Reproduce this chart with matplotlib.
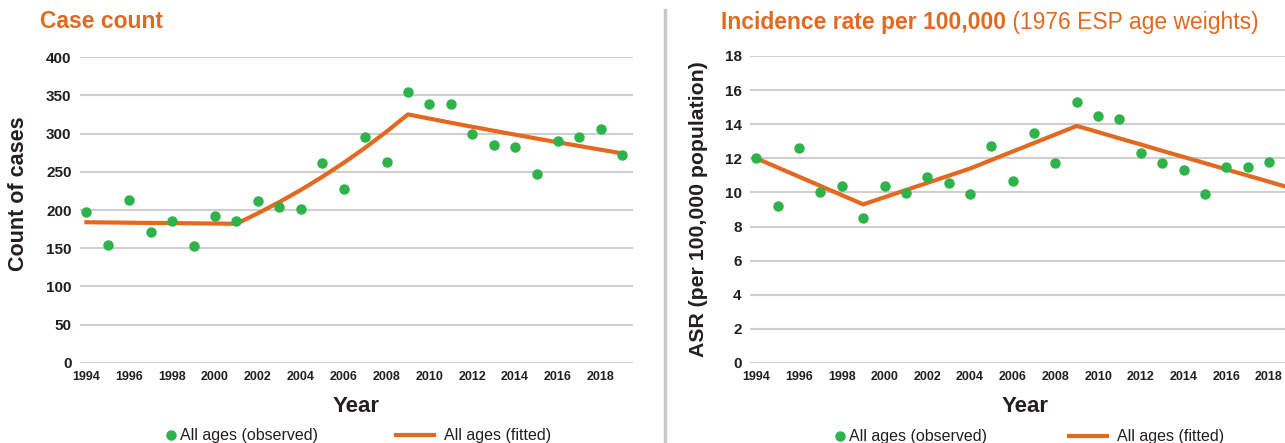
import matplotlib
matplotlib.use("Agg")
import matplotlib.pyplot as plt
from matplotlib import font_manager
from matplotlib.lines import Line2D

# --- data ---
years = list(range(1994, 2020))
case_obs = [197, 154, 213, 171, 186, 153, 192, 185, 212, 204, 201, 261, 227,
            296, 263, 354, 339, 338, 300, 285, 282, 247, 290, 296, 306, 272]
case_fit = [184, 183.7, 183.4, 183.1, 182.9, 182.6, 182.3, 182, 195.7, 210.4,
            226.2, 243.3, 261.6, 281.3, 302.4, 325, 319.5, 314.1, 308.8, 303.6,
            298.5, 293.4, 288.5, 283.6, 278.8, 274]

asr_years = list(range(1994, 2019))
asr_obs = [12.0, 9.2, 12.6, 10.0, 10.35, 8.5, 10.35, 9.95, 10.9, 10.55, 9.9,
           12.7, 10.7, 13.5, 11.7, 15.3, 14.5, 14.33, 12.33, 11.72, 11.33,
           9.9, 11.5, 11.5, 11.8]
asr_fit = [12.0, 11.46, 10.92, 10.38, 9.84, 9.3, 9.72, 10.14, 10.56, 10.98,
           11.4, 11.9, 12.4, 12.9, 13.4, 13.9, 13.54, 13.17, 12.81, 12.44,
           12.08, 11.72, 11.35, 10.99, 10.63, 10.26]

xtick_years = list(range(1994, 2019, 2))
case_ticks = list(range(0, 401, 50))
asr_ticks = list(range(0, 19, 2))

ORANGE = "#E2691F"
GREEN = "#2DB34A"
GRID = "#cfcfcf"
TEXT = "#231f20"

names = {f.name for f in font_manager.fontManager.ttflist}
NARROW = "Liberation Sans Narrow" if "Liberation Sans Narrow" in names else "Liberation Sans"
plt.rcParams["font.family"] = ["Liberation Sans", "DejaVu Sans"]

fig = plt.figure(figsize=(12.85, 4.43), dpi=100)
ax1 = fig.add_axes([80 / 1285, 0.1806, 553 / 1285, 0.6907])
ax2 = fig.add_axes([750 / 1285, 0.1806, 535 / 1285, 0.6930])


def style_axes(ax, ticks, ylim, xlim):
    ax.set_xlim(*xlim)
    ax.set_ylim(*ylim)
    ax.set_yticks(ticks)
    ax.set_xticks(xtick_years)
    ax.grid(axis="y", color=GRID, linewidth=1.5)
    ax.set_axisbelow(True)
    for s in ax.spines.values():
        s.set_visible(False)
    ax.tick_params(length=0, colors=TEXT, pad=6)
    for lab in ax.get_yticklabels():
        lab.set_fontfamily(NARROW)
        lab.set_fontweight("bold")
        lab.set_fontsize(11)
    for lab in ax.get_xticklabels():
        lab.set_fontfamily(NARROW)
        lab.set_fontweight("bold")
        lab.set_fontsize(9)
    ax.set_xlabel("Year", fontsize=16, fontweight="bold", color=TEXT, va="center")


def add_legend(ax, x_obs, x_fit, y):
    obs = Line2D([], [], marker="o", linestyle="none", color=GREEN, markersize=6.5)
    fit = Line2D([], [], color=ORANGE, linewidth=3)
    leg1 = ax.legend([obs], ["All ages (observed)"], loc="center", bbox_to_anchor=(x_obs, y),
                     frameon=False, handlelength=0.6, handletextpad=0.3, fontsize=11.5,
                     labelcolor=TEXT)
    ax.add_artist(leg1)
    ax.legend([fit], ["All ages (fitted)"], loc="center", bbox_to_anchor=(x_fit, y),
              frameon=False, handlelength=2.4, handletextpad=0.6, fontsize=11.5,
              labelcolor=TEXT)


# --- left: case count ---
ax1.plot(years, case_fit, color=ORANGE, linewidth=3, zorder=2)
ax1.plot(years, case_obs, "o", color=GREEN, markersize=6.5, zorder=3, clip_on=False)
style_axes(ax1, case_ticks, (0, 400), (1993.7, 2019.5))
ax1.xaxis.set_label_coords(0.5, -0.143)
ax1.set_ylabel("Count of cases", fontsize=15.5, fontweight="bold", color=TEXT, va="center")
ax1.yaxis.set_label_coords(-0.111, 0.552)
add_legend(ax1, 0.293, 0.711, -0.238)
fig.text(40 / 1285, 1 - 22 / 443, "Case count", fontsize=16.5, fontweight="bold",
         color=ORANGE, va="center", ha="left")

# --- right: incidence rate ---
ax2.plot(years, asr_fit, color=ORANGE, linewidth=3, zorder=2)
ax2.plot(asr_years, asr_obs, "o", color=GREEN, markersize=6.5, zorder=3)
style_axes(ax2, asr_ticks, (0, 18), (1993.7, 2018.75))
ax2.xaxis.set_label_coords(0.514, -0.143)
ax2.set_ylabel("ASR (per 100,000 population)", fontsize=15.3, fontweight="bold",
               color=TEXT, va="center")
ax2.yaxis.set_label_coords(-0.097, 0.50)
add_legend(ax2, 0.301, 0.741, -0.24)
t = fig.text(721 / 1285, 1 - 22 / 443, "Incidence rate per 100,000", fontsize=16.5,
             fontweight="bold", color=ORANGE, va="center", ha="left")
ax2.annotate(" (1976 ESP age weights)", xy=(1, 0.5), xycoords=t, va="center",
             ha="left", fontsize=16.5, color=ORANGE, annotation_clip=False)

# divider between panels
fig.add_artist(Line2D([665 / 1285, 665 / 1285], [0, 1 - 10 / 443],
                      transform=fig.transFigure, color="#c8c8c8", linewidth=2.5))

fig.savefig("out.png", dpi=100)
